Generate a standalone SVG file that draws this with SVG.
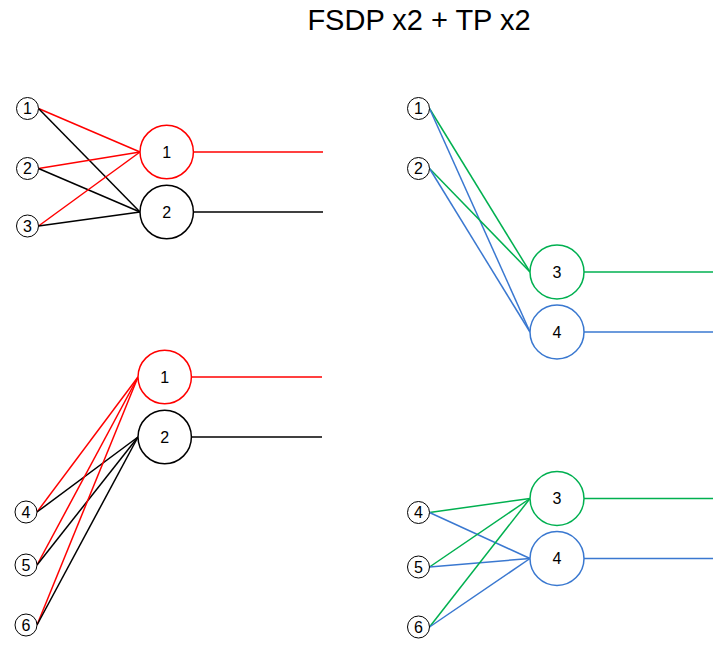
<svg xmlns="http://www.w3.org/2000/svg" width="728" height="649" viewBox="0 0 728 649">
<style>
text{font-family:"Liberation Sans",Arial,sans-serif;fill:#000;text-anchor:middle}
.lbl{font-size:16px}
.sm{fill:#fff;stroke:#000;stroke-width:1}
.big{fill:#fff;stroke-width:1.5}
.r{stroke:#ff0000}
.k{stroke:#000}
.g{stroke:#00b050}
.b{stroke:#3a78d0}
#connectors line{stroke-width:1.5;fill:none}
</style>
<rect width="728" height="649" fill="#fff"/>
<text x="419" y="30" font-size="29">FSDP x2 + TP x2</text>
<g id="connectors">
<line class="r" x1="38.5" y1="108.5" x2="140" y2="152"/>
<line class="k" x1="38.5" y1="108.5" x2="140" y2="212"/>
<line class="r" x1="38.5" y1="168.5" x2="140" y2="152"/>
<line class="k" x1="38.5" y1="168.5" x2="140" y2="212"/>
<line class="r" x1="38.5" y1="226" x2="140" y2="152"/>
<line class="k" x1="38.5" y1="226" x2="140" y2="212"/>
<line class="r" x1="193.5" y1="152" x2="323" y2="152"/>
<line class="k" x1="193.5" y1="212" x2="323" y2="212"/>
<line class="g" x1="429.5" y1="108.5" x2="530" y2="272"/>
<line class="b" x1="429.5" y1="108.5" x2="530" y2="332"/>
<line class="g" x1="429.5" y1="168.5" x2="530" y2="272"/>
<line class="b" x1="429.5" y1="168.5" x2="530" y2="332"/>
<line class="g" x1="584" y1="272" x2="713" y2="272"/>
<line class="b" x1="584" y1="332" x2="713" y2="332"/>
<line class="r" x1="37" y1="512" x2="138" y2="377"/>
<line class="k" x1="37" y1="512" x2="138" y2="437"/>
<line class="r" x1="37" y1="565" x2="138" y2="377"/>
<line class="k" x1="37" y1="565" x2="138" y2="437"/>
<line class="r" x1="37" y1="625" x2="138" y2="377"/>
<line class="k" x1="37" y1="625" x2="138" y2="437"/>
<line class="r" x1="191.5" y1="377" x2="322" y2="377"/>
<line class="k" x1="191.5" y1="437" x2="322" y2="437"/>
<line class="g" x1="429.5" y1="512.5" x2="530" y2="498.5"/>
<line class="b" x1="429.5" y1="512.5" x2="530" y2="558.5"/>
<line class="g" x1="429.5" y1="567" x2="530" y2="498.5"/>
<line class="b" x1="429.5" y1="567" x2="530" y2="558.5"/>
<line class="g" x1="429.5" y1="627" x2="530" y2="498.5"/>
<line class="b" x1="429.5" y1="627" x2="530" y2="558.5"/>
<line class="g" x1="584" y1="498.5" x2="713" y2="498.5"/>
<line class="b" x1="584" y1="558.5" x2="713" y2="558.5"/>
</g>
<g id="tl-in1"><circle class="sm" cx="27.5" cy="108.5" r="11"/><text class="lbl" x="27.5" y="114.3">1</text></g>
<g id="tl-in2"><circle class="sm" cx="27.5" cy="168.5" r="11"/><text class="lbl" x="27.5" y="174.3">2</text></g>
<g id="tl-in3"><circle class="sm" cx="27.5" cy="226" r="11"/><text class="lbl" x="27.5" y="231.8">3</text></g>
<g id="tl-out1"><circle class="big r" cx="166.7" cy="152" r="26.7"/><text class="lbl" x="166.7" y="157.8">1</text></g>
<g id="tl-out2"><circle class="big k" cx="166.7" cy="212" r="26.7"/><text class="lbl" x="166.7" y="217.8">2</text></g>
<g id="tr-in1"><circle class="sm" cx="418.5" cy="108.5" r="11"/><text class="lbl" x="418.5" y="114.3">1</text></g>
<g id="tr-in2"><circle class="sm" cx="418.5" cy="168.5" r="11"/><text class="lbl" x="418.5" y="174.3">2</text></g>
<g id="tr-out3"><circle class="big g" cx="557" cy="272" r="27"/><text class="lbl" x="557" y="277.8">3</text></g>
<g id="tr-out4"><circle class="big b" cx="557" cy="332" r="27"/><text class="lbl" x="557" y="337.8">4</text></g>
<g id="bl-in4"><circle class="sm" cx="26" cy="512" r="11"/><text class="lbl" x="26" y="517.8">4</text></g>
<g id="bl-in5"><circle class="sm" cx="26" cy="565" r="11"/><text class="lbl" x="26" y="570.8">5</text></g>
<g id="bl-in6"><circle class="sm" cx="26" cy="625" r="11"/><text class="lbl" x="26" y="630.8">6</text></g>
<g id="bl-out1"><circle class="big r" cx="164.7" cy="377" r="26.7"/><text class="lbl" x="164.7" y="382.8">1</text></g>
<g id="bl-out2"><circle class="big k" cx="164.7" cy="437" r="26.7"/><text class="lbl" x="164.7" y="442.8">2</text></g>
<g id="br-in4"><circle class="sm" cx="418.5" cy="512.5" r="11"/><text class="lbl" x="418.5" y="518.3">4</text></g>
<g id="br-in5"><circle class="sm" cx="418.5" cy="567" r="11"/><text class="lbl" x="418.5" y="572.8">5</text></g>
<g id="br-in6"><circle class="sm" cx="418.5" cy="627" r="11"/><text class="lbl" x="418.5" y="632.8">6</text></g>
<g id="br-out3"><circle class="big g" cx="557" cy="498.5" r="27"/><text class="lbl" x="557" y="504.3">3</text></g>
<g id="br-out4"><circle class="big b" cx="557" cy="558.5" r="27"/><text class="lbl" x="557" y="564.3">4</text></g>
</svg>
